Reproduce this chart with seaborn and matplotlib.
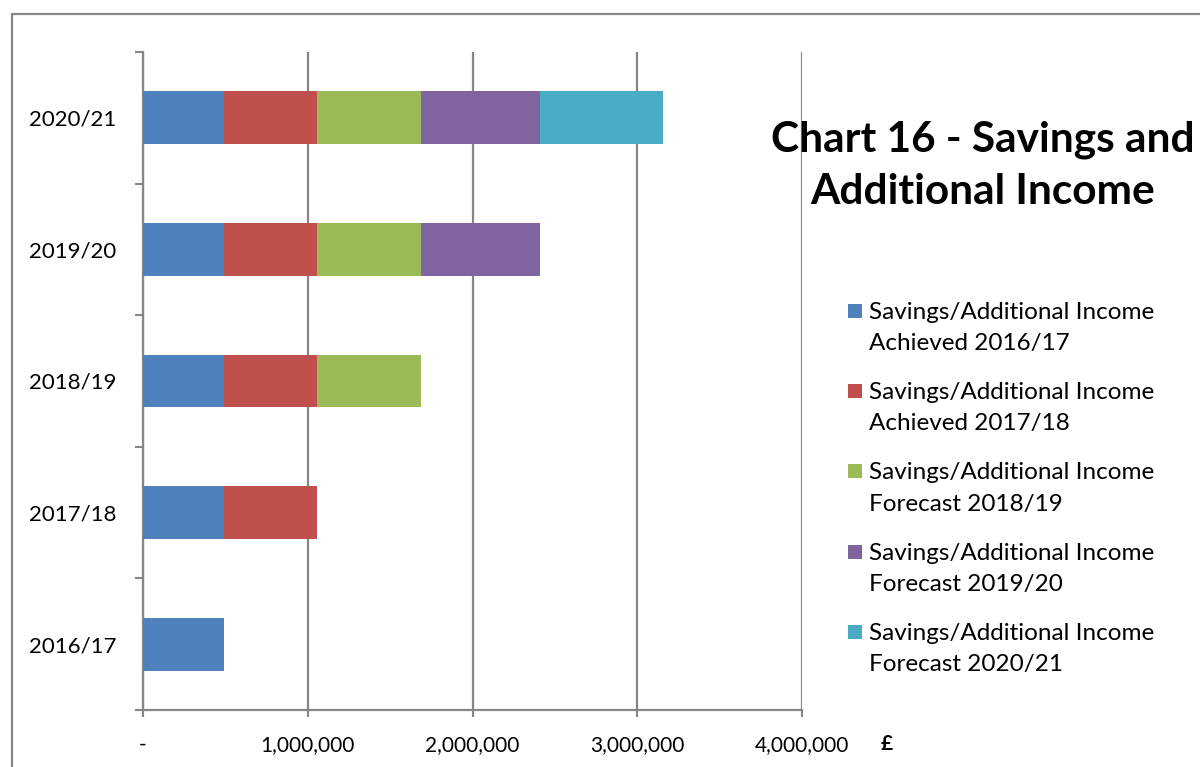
import matplotlib
matplotlib.use("Agg")
import matplotlib.pyplot as plt
import seaborn as sns
import pandas as pd
import numpy as np
from matplotlib.patches import Rectangle
from matplotlib.lines import Line2D

# ---- data ----
categories = ["2016/17", "2017/18", "2018/19", "2019/20", "2020/21"]
series_names = [
    "Savings/Additional Income\nAchieved 2016/17",
    "Savings/Additional Income\nAchieved 2017/18",
    "Savings/Additional Income\nForecast 2018/19",
    "Savings/Additional Income\nForecast 2019/20",
    "Savings/Additional Income\nForecast 2020/21",
]
series_values = [492000, 563000, 630000, 727000, 745000]
colors = ["#4F81BD", "#C0504D", "#9BBB59", "#8064A2", "#4BACC6"]
x_ticks = [0, 1000000, 2000000, 3000000, 4000000]
x_ticklabels = ["-", "1,000,000", "2,000,000", "3,000,000", "4,000,000"]
title = "Chart 16 - Savings and\nAdditional Income"

sns.set_theme(style="white")
plt.rcParams["font.family"] = ["Lato", "DejaVu Sans"]
plt.rcParams["text.color"] = "black"

W, H = 1200, 767
fig = plt.figure(figsize=(12, 7.67), dpi=100)
ax = fig.add_axes([143 / W, 1 - 710 / H, (802 - 143) / W, (710 - 52) / H])

order = categories[::-1]  # top to bottom
grid_col = "#868686"

# stacked bars: draw cumulative totals from last series to first
for k in range(len(series_values) - 1, -1, -1):
    cum = float(np.sum(series_values[: k + 1]))
    cats = categories[k:]
    df = pd.DataFrame({"cat": cats, "val": [cum] * len(cats)})
    sns.barplot(data=df, x="val", y="cat", order=order, color=colors[k],
                saturation=1, width=0.4, errorbar=None, ax=ax, zorder=3,
                linewidth=0)

ax.set_xlim(0, 4000000)
ax.set_ylim(len(categories) - 0.5, -0.5)
ax.set_xlabel("")
ax.set_ylabel("")

ax.set_xticks(x_ticks)
ax.set_xticklabels(x_ticklabels, fontsize=15, color="black")
ax.xaxis.grid(True, color=grid_col, linewidth=1.6, zorder=0)
ax.set_axisbelow(True)
ax.tick_params(axis="x", direction="out", length=5, width=1.5, color=grid_col, pad=13, bottom=True)

ax.set_yticks(range(len(order)))
ax.set_yticklabels(order, fontsize=16, color="black")
ax.set_yticks(np.arange(-0.5, len(order), 1.0), minor=True)
ax.tick_params(axis="y", which="major", length=0, pad=19)
ax.tick_params(axis="y", which="minor", direction="out", length=6, width=1.5, color=grid_col, left=True)

for s in ["top", "right"]:
    ax.spines[s].set_visible(False)
for s in ["left", "bottom"]:
    ax.spines[s].set_color(grid_col)
    ax.spines[s].set_linewidth(1.6)

# currency unit label
fig.text(887 / W, 1 - 744 / H, "£", fontsize=15, fontweight="bold", ha="center", va="center",
         color="black")

# title
fig.text(983 / W, 1 - 166 / H, title, fontsize=30.5, fontweight="bold", ha="center", va="center",
         linespacing=1.45, color="black")

# legend (manual layout to match the reference)
for i, (name, col) in enumerate(zip(series_names, colors)):
    yc = 311 + i * 80.2
    fig.patches.append(Rectangle((848 / W, 1 - (yc + 7) / H), 14 / W, 14 / H,
                                 transform=fig.transFigure, facecolor=col, edgecolor="none"))
    fig.text(869 / W, 1 - (yc - 9) / H, name, fontsize=17.5, ha="left", va="top",
             linespacing=1.6, color="black")

# outer chart border
fig.lines.append(Line2D([12 / W, 1.0], [1 - 14 / H, 1 - 14 / H], transform=fig.transFigure,
                        color=grid_col, linewidth=1.6))
fig.lines.append(Line2D([12 / W, 12 / W], [1 - 14 / H, 0], transform=fig.transFigure,
                        color=grid_col, linewidth=1.6))

fig.savefig("out.png", dpi=100)
